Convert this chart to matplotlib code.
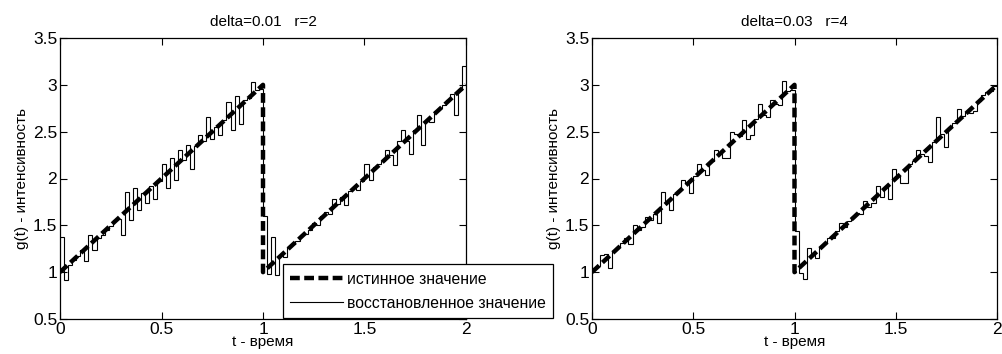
import numpy as np
import matplotlib
matplotlib.use('Agg')
import matplotlib.pyplot as plt

plt.rcParams['font.family'] = ['Liberation Sans', 'DejaVu Sans']

# true signal: sawtooth
t_true = [0, 1, 1, 2]
g_true = [1, 3, 1, 3]

# step edges of the reconstructed signal
t_edges = np.linspace(0, 2, 101)

# reconstructed values, delta=0.01 r=2
g_rec1 = [1.38, 0.92, 1.08, 1.13, 1.17, 1.24, 1.12, 1.40, 1.24, 1.37,
          1.40, 1.45, 1.49, 1.56, 1.57, 1.40, 1.86, 1.56, 1.90, 1.66,
          1.84, 1.74, 1.92, 1.78, 1.97, 2.16, 1.90, 2.22, 1.98, 2.30,
          2.20, 2.36, 2.10, 2.35, 2.46, 2.40, 2.66, 2.42, 2.55, 2.46,
          2.62, 2.82, 2.52, 2.88, 2.58, 2.84, 2.86, 3.03, 2.95, 2.96,
          1.60, 0.98, 1.38, 0.97, 1.18, 1.16, 1.27, 1.30, 1.33, 1.40,
          1.41, 1.45, 1.52, 1.50, 1.60, 1.64, 1.62, 1.78, 1.73, 1.80,
          1.72, 1.87, 1.90, 1.88, 1.97, 2.16, 1.98, 2.12, 2.15, 2.19,
          2.30, 2.25, 2.14, 2.40, 2.52, 2.40, 2.26, 2.52, 2.68, 2.36,
          2.62, 2.60, 2.72, 2.75, 2.79, 2.84, 2.90, 2.68, 2.95, 3.20]

# reconstructed values, delta=0.03 r=4
g_rec2 = [1.04, 1.07, 1.18, 1.19, 1.04, 1.23, 1.27, 1.31, 1.36, 1.30,
          1.50, 1.45, 1.48, 1.59, 1.56, 1.62, 1.52, 1.86, 1.75, 1.66,
          1.83, 1.87, 1.98, 1.95, 1.84, 2.03, 2.16, 2.09, 2.04, 2.19,
          2.30, 2.27, 2.22, 2.22, 2.50, 2.48, 2.45, 2.62, 2.42, 2.46,
          2.63, 2.80, 2.68, 2.66, 2.84, 2.80, 2.78, 3.04, 2.93, 2.94,
          1.44, 0.99, 0.93, 1.26, 1.19, 1.15, 1.27, 1.31, 1.36, 1.37,
          1.44, 1.52, 1.48, 1.55, 1.59, 1.63, 1.62, 1.76, 1.70, 1.74,
          1.92, 1.80, 1.91, 1.78, 2.10, 2.03, 1.95, 1.95, 2.15, 2.19,
          2.30, 2.26, 2.24, 2.18, 2.39, 2.66, 2.47, 2.34, 2.55, 2.59,
          2.74, 2.67, 2.71, 2.70, 2.72, 2.83, 2.89, 2.92, 2.93, 2.99]

titles = ['delta=0.01   r=2', 'delta=0.03   r=4']
xticks = [0, 0.5, 1, 1.5, 2]
yticks = [0.5, 1, 1.5, 2, 2.5, 3, 3.5]

W, H = 1002, 354
fig = plt.figure(figsize=(W / 100, H / 100), dpi=100)
ax1 = fig.add_axes([60 / W, 35 / H, 406 / W, 281 / H])
ax2 = fig.add_axes([592 / W, 35 / H, 405 / W, 281 / H])

for ax, rec, title in zip([ax1, ax2], [g_rec1, g_rec2], titles):
    true_line, = ax.plot(t_true, g_true, color='black', lw=3.2,
                         dashes=(2.2, 1.0), label='истинное значение')
    rec_line = ax.stairs(rec, t_edges, color='black', lw=0.8, baseline=None,
                         label='восстановленное значение')
    ax.set_xlim(0, 2)
    ax.set_ylim(0.5, 3.5)
    ax.set_xticks(xticks)
    ax.set_xticklabels(['0', '0.5', '1', '1.5', '2'])
    ax.set_yticks(yticks)
    ax.set_yticklabels(['0.5', '1', '1.5', '2', '2.5', '3', '3.5'])
    ax.tick_params(direction='in', top=True, right=True, length=5,
                   width=0.8, labelsize=12.5, pad=2, colors='black')
    for sp in ax.spines.values():
        sp.set_linewidth(0.9)
    ax.set_title(title, fontsize=11, pad=9)
    ax.set_xlabel('t - время', fontsize=11, labelpad=-1)
    ax.set_ylabel('g(t) - интенсивность', fontsize=11, labelpad=3)

leg = fig.legend([true_line, rec_line],
                 ['истинное значение', 'восстановленное значение'],
                 loc='lower left', bbox_to_anchor=(283 / W, 36 / H),
                 bbox_transform=fig.transFigure, fontsize=11.3,
                 fancybox=False, framealpha=1, edgecolor='black',
                 borderpad=0.45, borderaxespad=0, handlelength=3.4,
                 handletextpad=0.25, labelspacing=0.6)
leg.get_frame().set_linewidth(0.9)

fig.savefig('out.png', dpi=100)
